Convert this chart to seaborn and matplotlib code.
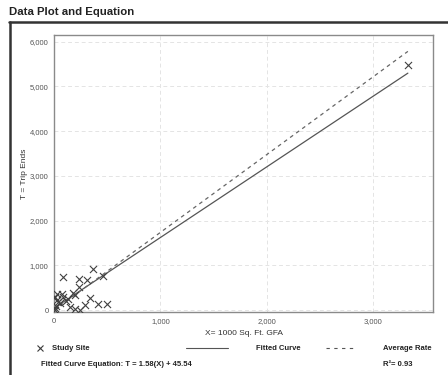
import matplotlib
matplotlib.use("Agg")
import matplotlib.pyplot as plt
import matplotlib.ticker as mticker
from matplotlib.lines import Line2D
import numpy as np
import pandas as pd
import seaborn as sns

gfa = [3324, 369, 88, 238, 313, 463, 238, 72, 25, 9, 88, 197, 40, 338,
       291, 416, 500, 150, 197, 244, 12, 20, 5, 30, 60, 110, 130, 175]
trips = [5480, 924, 738, 700, 664, 760, 515, 365, 365, 291, 291, 329, 179, 268,
         119, 143, 143, 67, 29, 0, 40, 100, 10, 220, 150, 200, 250, 380]

# Fitted curve and average rate
slope = 1.58
intercept = 45.54
avg_rate = 1.74
r_squared = 0.93

x_ticks = [0, 1000, 2000, 3000]
y_ticks = [0, 1000, 2000, 3000, 4000, 5000, 6000]

sns.set_style("white")
plt.rcParams["font.family"] = ["Liberation Sans", "DejaVu Sans"]

W, H = 448, 375
fig = plt.figure(figsize=(W / 100, H / 100), dpi=100)

def fx(px):
    return px / W

def fy(py):
    return 1 - py / H

ax = fig.add_axes([fx(54), fy(312), fx(433) - fx(54), fy(35) - fy(312)])

df = pd.DataFrame({"gfa": gfa, "trips": trips})
sns.scatterplot(data=df, x="gfa", y="trips", marker="x", color="#404040",
                s=26, linewidth=0.8, ax=ax, zorder=3)

xs = np.array([0, max(gfa)])
sns.lineplot(x=xs, y=slope * xs + intercept, color="#555555", lw=0.9, ax=ax, zorder=2)
sns.lineplot(x=xs, y=avg_rate * xs, color="#666666", lw=0.9, ax=ax, zorder=2)
ax.lines[-1].set_linestyle((0, (3, 3)))

ax.set_xlim(0, 3560)
ax.set_ylim(-40, 6150)
ax.set_xticks(x_ticks)
ax.set_yticks(y_ticks)
fmt = mticker.FuncFormatter(lambda v, p: f"{int(v):,}")
ax.xaxis.set_major_formatter(fmt)
ax.yaxis.set_major_formatter(fmt)
ax.tick_params(axis="both", labelsize=5.5, labelcolor="#555555", color="#aaaaaa",
               length=3, width=0.6, pad=1)
ax.grid(True, color="#e4e4e4", linestyle=(0, (4, 3)), linewidth=0.7)
ax.set_axisbelow(True)
for s in ax.spines.values():
    s.set_color("#8a8a8a")
    s.set_linewidth(1.0)
ax.set_xlabel("X= 1000 Sq. Ft. GFA", fontsize=6, color="#333333", labelpad=4)
ax.set_ylabel("T = Trip Ends", fontsize=6, color="#333333", labelpad=1)

# outer panel frame
fig.add_artist(Line2D([fx(10), fx(10)], [fy(22), fy(376)], color="#333333", lw=1.8))
fig.add_artist(Line2D([fx(9), fx(449)], [fy(22), fy(22)], color="#333333", lw=1.8))

fig.text(fx(9), fy(12), "Data Plot and Equation", fontsize=8.2, fontweight="bold",
         color="#222222", va="center", ha="left")

# legend row
leg_y = fy(348)
fig.add_artist(Line2D([fx(40)], [leg_y], marker="x", color="#3a3a3a", ms=5, mew=0.8, lw=0))
fig.text(fx(52), leg_y, "Study Site", fontsize=5.5, fontweight="bold", color="#222222", va="center")
fig.add_artist(Line2D([fx(186), fx(228)], [leg_y, leg_y], color="#555555", lw=0.8))
fig.text(fx(256), leg_y, "Fitted Curve", fontsize=5.5, fontweight="bold", color="#222222", va="center")
fig.add_artist(Line2D([fx(326), fx(356)], [leg_y, leg_y], color="#555555", lw=0.8,
                      linestyle=(0, (3, 4))))
fig.text(fx(383), leg_y, "Average Rate", fontsize=5.5, fontweight="bold", color="#222222", va="center")

eq_y = fy(365)
fig.text(fx(41), eq_y, f"Fitted Curve Equation: T = {slope:.2f}(X) + {intercept:.2f}",
         fontsize=5.5, fontweight="bold", color="#222222", va="center")
fig.text(fx(383), eq_y, f"R\u00b2= {r_squared:.2f}", fontsize=5.5, fontweight="bold",
         color="#222222", va="center")

fig.savefig("out.png", dpi=100)
